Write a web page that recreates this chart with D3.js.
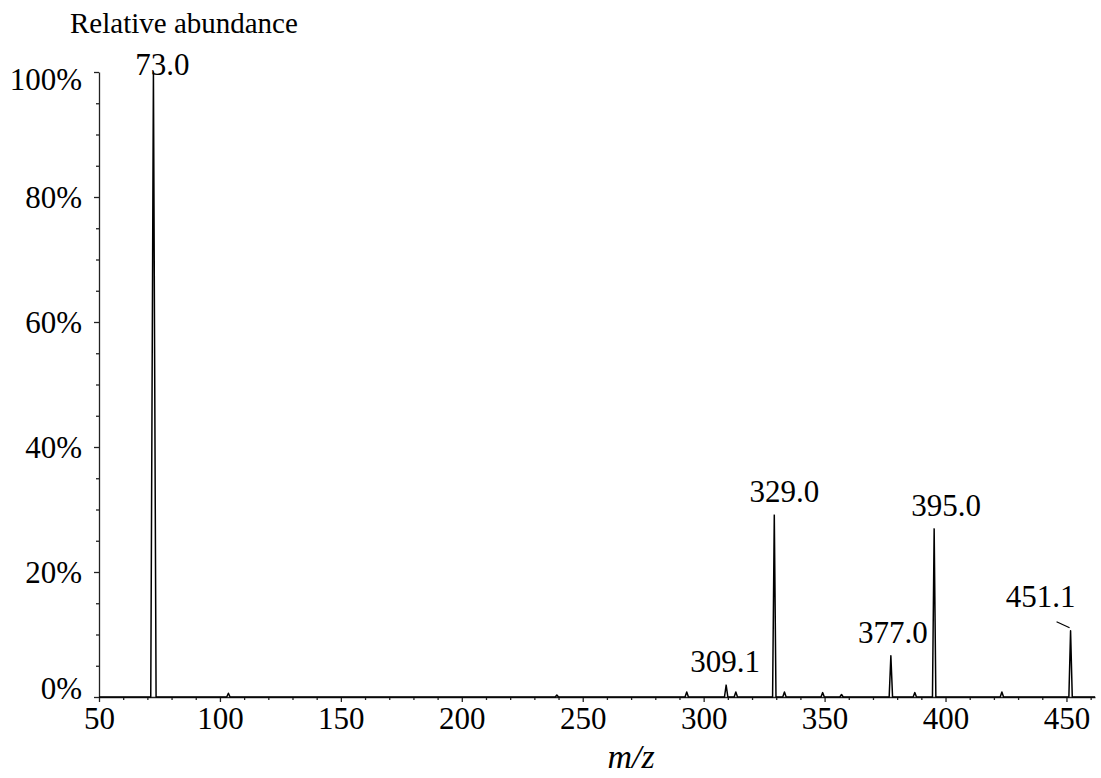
<!DOCTYPE html>
<html>
<head>
<meta charset="utf-8">
<script src="https://cdn.jsdelivr.net/npm/d3@7"></script>
<style>
  body { margin: 0; background: #fff; }
  text { font-family: "Liberation Serif", "Times New Roman", serif; fill: #000; }
</style>
</head>
<body>
<script>
// peak list: m/z position and relative abundance (%)
var peakMz = [72.5, 103.5, 239.3, 293.0, 309.3, 313.3, 329.2, 333.4, 349.2, 357.0, 377.4, 387.3, 395.3, 423.3, 451.7];
var peakAbundance = [100, 0.6, 0.3, 0.8, 1.9, 0.8, 29.1, 0.8, 0.7, 0.4, 6.6, 0.7, 26.9, 0.8, 10.6];

// labelled peaks
var labelMz = [72.5, 309.3, 329.2, 377.4, 395.3, 451.7];
var labelText = ["73.0", "309.1", "329.0", "377.0", "395.0", "451.1"];

var xTicks = [50, 100, 150, 200, 250, 300, 350, 400, 450];
var yTicks = [0, 20, 40, 60, 80, 100];

var width = 1101,
  height = 778,
  axisLeft = 99,
  axisRight = 1095,
  axisBottom = 697,
  axisTop = 72;

var xScale = d3.scaleLinear()
  .domain([50, 461.8])
  .range([axisLeft, axisRight]);

var yScale = d3.scaleLinear()
  .domain([0, 100])
  .range([axisBottom, axisTop]);

var svg = d3.select("body").append("svg")
  .attr("width", width)
  .attr("height", height);

// x axis with minor ticks every 10
var xMinor = d3.range(50, 461, 10).filter(function(d) { return d % 50 != 0; });
svg.append("g")
  .attr("transform", "translate(0," + axisBottom + ")")
  .call(d3.axisBottom(xScale).tickValues(xMinor).tickSize(3).tickFormat(""))
  .call(function(g) { g.select(".domain").remove(); });

var xAxis = svg.append("g")
  .attr("transform", "translate(0," + axisBottom + ")")
  .call(d3.axisBottom(xScale).tickValues(xTicks).tickSize(5).tickSizeOuter(0).tickPadding(5));

// y axis with minor ticks every 5%
var yMinor = d3.range(0, 101, 5).filter(function(d) { return d % 20 != 0; });
svg.append("g")
  .attr("transform", "translate(" + axisLeft + ",0)")
  .call(d3.axisLeft(yScale).tickValues(yMinor).tickSize(3).tickFormat(""))
  .call(function(g) { g.select(".domain").remove(); });

var yAxis = svg.append("g")
  .attr("transform", "translate(" + axisLeft + ",0)")
  .call(d3.axisLeft(yScale).tickValues(yTicks).tickSize(5).tickSizeOuter(0).tickPadding(12)
    .tickFormat(function(d) { return d + "%"; }));

svg.selectAll(".domain, .tick line")
  .attr("stroke", "#222")
  .attr("stroke-width", 1.3);

xAxis.selectAll(".tick text")
  .attr("font-size", "31px")
  .attr("font-family", "Liberation Serif")
  .attr("fill", "#000")
  .attr("dy", "0.72em");

yAxis.selectAll(".tick text")
  .attr("font-size", "31px")
  .attr("font-family", "Liberation Serif")
  .attr("fill", "#000")
  .attr("dy", function(d) {
    if (d == 100) return "0.56em";
    if (d == 0) return "0.05em";
    return "0.34em";
  });

// spectrum trace: baseline with a narrow triangular profile at each peak
var points = [[50, 0]];
peakMz.forEach(function(mz, i) {
  var hw = peakAbundance[i] > 50 ? 1.1 : 0.7;
  points.push([mz - hw, 0], [mz, peakAbundance[i]], [mz + hw, 0]);
});
points.push([461.8, 0]);

var line = d3.line()
  .x(function(d) { return xScale(d[0]); })
  .y(function(d) { return yScale(d[1]); });

svg.append("path")
  .datum(points)
  .attr("d", line)
  .attr("fill", "none")
  .attr("stroke", "#000")
  .attr("stroke-width", 1.5)
  .attr("stroke-linejoin", "round");

// peak labels (small nudges so they sit like the original)
var nudge = {"73.0": 9, "309.1": -1, "329.0": 10, "377.0": 2, "395.0": 12, "451.1": -30};
labelMz.forEach(function(mz, i) {
  var h = peakAbundance[peakMz.indexOf(mz)];
  var px = xScale(mz);
  var py = yScale(h);
  var t = labelText[i];
  var ty = Math.max(py - 13, axisTop + 3);
  if (t == "451.1") ty = py - 24;
  svg.append("text")
    .attr("x", px + nudge[t])
    .attr("y", ty)
    .attr("text-anchor", "middle")
    .attr("font-size", "31px")
    .text(t);
  if (t == "451.1") {
    svg.append("line")
      .attr("x1", px - 14)
      .attr("y1", py - 9)
      .attr("x2", px - 1)
      .attr("y2", py - 3)
      .attr("stroke", "#000")
      .attr("stroke-width", 1.2);
  }
});

svg.append("text")
  .attr("x", 70)
  .attr("y", 33)
  .attr("font-size", "29px")
  .text("Relative abundance");

svg.append("text")
  .attr("x", 631)
  .attr("y", 768)
  .attr("text-anchor", "middle")
  .attr("font-size", "34px")
  .attr("font-style", "italic")
  .text("m/z");
</script>
</body>
</html>
